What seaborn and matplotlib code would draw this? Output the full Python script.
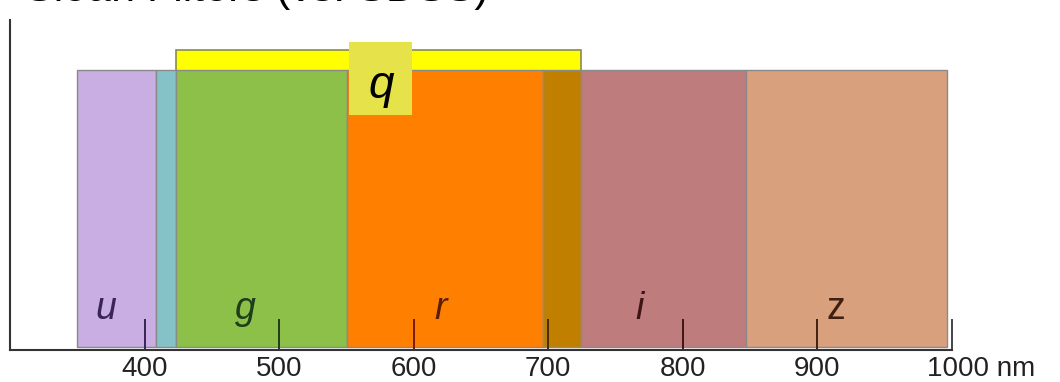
import matplotlib
matplotlib.use("Agg")
import matplotlib.pyplot as plt
import matplotlib.transforms as mtrans
from matplotlib.patches import Rectangle
import seaborn as sns

# ---- data ----
seg_lo = [350, 408.5, 423, 550.5, 696, 724, 847]
seg_hi = [408.5, 423, 550.5, 696, 724, 847, 996]
seg_colors = ["#c8aee2", "#84c2c8", "#8cc048", "#ff8000", "#c17f00", "#bf7c7d", "#d9a07e"]
band_top = 0.848

q_lo, q_hi, q_top = 423, 724, 0.909

filters = ["u", "g", "r", "i", "z"]
filter_label_x = [371, 475, 620, 768, 914]
filter_colors = ["#3b2358", "#1f3d1a", "#5a1e05", "#3e1414", "#3f2010"]
filter_italic = ["italic", "italic", "italic", "italic", "normal"]

ticks = [400, 500, 600, 700, 800, 900, 1000]
tick_labels = ["400", "500", "600", "700", "800", "900", "1000 nm"]
tick_colors = ["#3b2358", "#1f3d1a", "#7a1a05", "#4a2a05", "#3e1414", "#3f2010", "#444444"]

sns.set_theme(style="white")
plt.rcParams["font.family"] = ["Liberation Sans", "DejaVu Sans"]

fig = plt.figure(figsize=(10.6, 3.82), dpi=100)
W, H = 1060, 382
ax = fig.add_axes([10 / W, (H - 350) / H, (952 - 10) / W, 330 / H])
ax.set_xlim(300, 1000)
ax.set_ylim(0, 1)

# q band (behind)
ax.bar(q_lo, q_top - 0.008, width=q_hi - q_lo, bottom=0.008, align="edge",
       color="#ffff00", edgecolor="#8a8a50", linewidth=1.2, zorder=1)
# visible band segments
widths = [h - l for l, h in zip(seg_lo, seg_hi)]
ax.bar(seg_lo, band_top - 0.008, width=widths, bottom=0.008, align="edge",
       color=seg_colors, edgecolor="#8a8a8a", linewidth=1.0, zorder=2)

# q label box
ax.add_patch(Rectangle((552, 0.712), 47, 0.221, facecolor="#e6e34a",
                       edgecolor="none", zorder=4))
ax.text(575.5, 0.80, "q", fontsize=33, style="italic", color="black",
        ha="center", va="center", zorder=5)

for name, x, c, st in zip(filters, filter_label_x, filter_colors, filter_italic):
    ax.text(x, 0.125, name, fontsize=27, style=st, color=c,
            ha="center", va="center", zorder=5)

ax.set_xticks(ticks)
ax.set_xticklabels(tick_labels, fontsize=20, color="#222222")
ax.set_yticks([])
ax.tick_params(axis="x", which="major", bottom=True, direction="in",
               length=22, width=1.4, pad=4)
ax.set_axisbelow(False)
for t, c in zip(ax.xaxis.get_major_ticks(), tick_colors):
    t.tick1line.set_color(c)
    t.tick1line.set_markeredgecolor(c)
    t.set_zorder(6)
lbls = ax.get_xticklabels()
last = lbls[-1]
last.set_ha("left")
last.set_transform(last.get_transform() + mtrans.ScaledTranslation(-25 / 100, 0, fig.dpi_scale_trans))

for s in ["top", "right"]:
    ax.spines[s].set_visible(False)
for s in ["left", "bottom"]:
    ax.spines[s].set_color("#333333")
    ax.spines[s].set_linewidth(1.5)
    ax.spines[s].set_zorder(6)

fig.text(25 / W, 1 - 0.5 / H, "Sloan Filters (vs. SDSS)", fontsize=31,
         color="black", ha="left", va="baseline")

fig.savefig("out.png", dpi=100, facecolor="white")
